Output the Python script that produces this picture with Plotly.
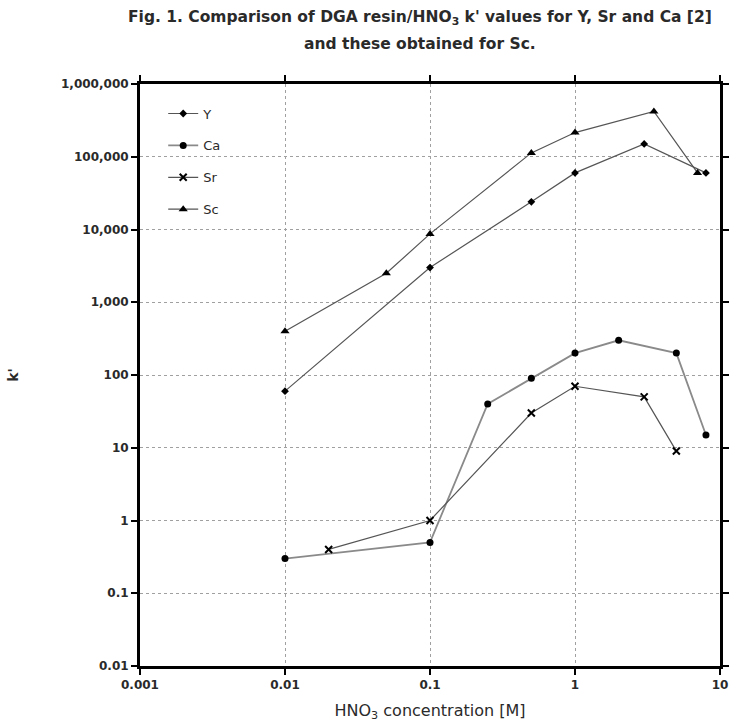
import plotly.graph_objects as go

# Data
y_x = [0.01, 0.1, 0.5, 1, 3, 8]
y_k = [60, 3000, 24000, 60000, 150000, 60000]

ca_x = [0.01, 0.1, 0.25, 0.5, 1, 2, 5, 8]
ca_k = [0.3, 0.5, 40, 90, 200, 300, 200, 15]

sr_x = [0.02, 0.1, 0.5, 1, 3, 5]
sr_k = [0.4, 1.0, 30, 70, 50, 9]

sc_x = [0.01, 0.05, 0.1, 0.5, 1, 3.5, 7]
sc_k = [400, 2500, 8700, 113000, 215000, 420000, 60000]

x_tickvals = [0.001, 0.01, 0.1, 1, 10]
x_ticktext = ["0.001", "0.01", "0.1", "1", "10"]
y_tickvals = [0.01, 0.1, 1, 10, 100, 1000, 10000, 100000, 1000000]
y_ticktext = ["0.01", "0.1", "1", "10", "100", "1,000", "10,000", "100,000", "1,000,000"]

title_lines = ["Fig. 1. Comparison of DGA resin/HNO<sub>3</sub> k' values for Y, Sr and Ca [2]",
               "and these obtained for Sc."]

FONT = "DejaVu Sans, Arial, sans-serif"
TXT = "#2a2a2a"

fig = go.Figure()

series = [
    ("Y", y_x, y_k, dict(symbol="diamond", size=6, color="black"), dict(color="#555555", width=1.2)),
    ("Ca", ca_x, ca_k, dict(symbol="circle", size=7, color="black"), dict(color="#8a8a8a", width=1.8)),
    ("Sr", sr_x, sr_k, dict(symbol="x-thin", size=7, color="black", line=dict(color="black", width=2)), dict(color="#555555", width=1.2)),
    ("Sc", sc_x, sc_k, dict(symbol="triangle-up", size=8, color="black"), dict(color="#555555", width=1.2)),
]
for name, xs, ys, mk, ln in series:
    fig.add_trace(go.Scatter(x=xs, y=ys, name=name, mode="lines+markers",
                             marker=mk, line=ln, legendgroup=name))

axis_common = dict(
    showline=True, linewidth=3, linecolor="black", mirror="ticks",
    ticks="outside", ticklen=6, tickwidth=2, tickcolor="black",
    showgrid=True, gridcolor="#a0a0a0", griddash="dot", gridwidth=1,
    zeroline=False, automargin=False,
    tickfont=dict(family=FONT, size=12, color=TXT, weight="bold"),
)

fig.update_xaxes(type="log", range=[-3, 1], tickvals=x_tickvals, ticktext=x_ticktext,
                 title=dict(text="HNO<sub>3</sub> concentration [M]", font=dict(family=FONT, size=16, color=TXT), standoff=14),
                 **axis_common)
fig.update_yaxes(type="log", range=[-2, 6], tickvals=y_tickvals, ticktext=y_ticktext,
                 title=dict(text="k'", font=dict(family=FONT, size=14, color=TXT, weight="bold"), standoff=40),
                 **axis_common)

fig.update_layout(
    width=730, height=726,
    margin=dict(l=140, r=10, t=84, b=60),
    paper_bgcolor="white", plot_bgcolor="white",
    legend=dict(x=0.04, y=0.975, xanchor="left", yanchor="top",
                bgcolor="rgba(0,0,0,0)", traceorder="grouped", tracegroupgap=12,
                font=dict(family=FONT, size=13, color=TXT)),
    showlegend=True,
)

title_y = [1.1134, 1.0687]
for txt, ty in zip(title_lines, title_y):
    fig.add_annotation(text=txt, xref="paper", yref="paper", x=(420 - 140) / 580, y=ty,
                       xanchor="center", yanchor="middle", showarrow=False,
                       font=dict(family=FONT, size=15.5, color=TXT, weight="bold"))

fig.write_html("out.html")
